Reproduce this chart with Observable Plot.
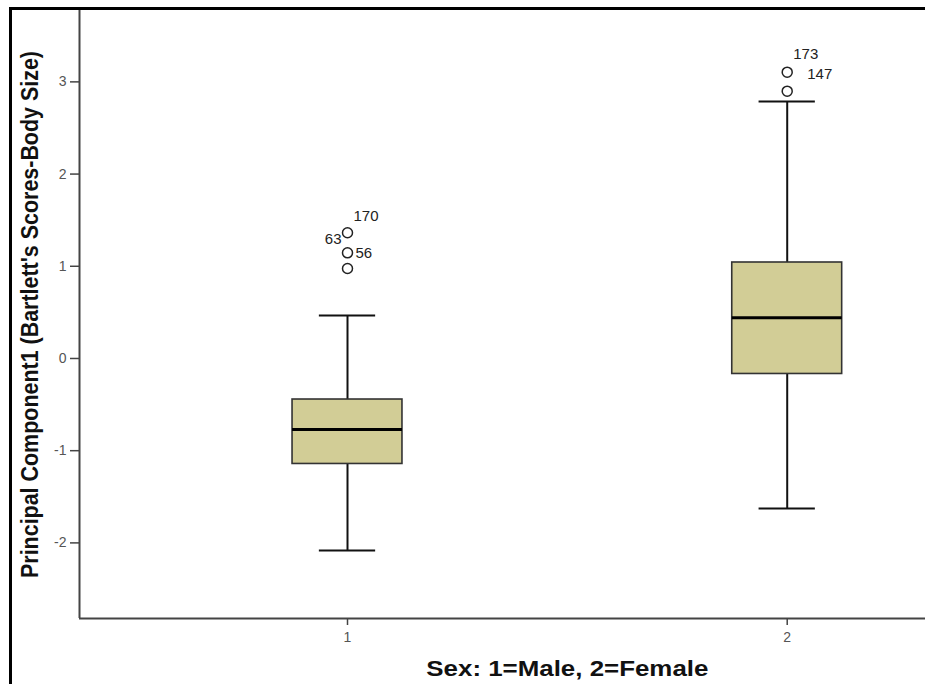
<!DOCTYPE html>
<html>
<head>
<meta charset="utf-8">
<script src="https://cdn.jsdelivr.net/npm/d3@7"></script>
<script src="https://cdn.jsdelivr.net/npm/@observablehq/plot@0.6"></script>
<style>
  body { margin: 0; background: #fff; overflow: hidden; }
  #chart { position: relative; width: 925px; height: 684px; overflow: hidden; background: #fff; }
  #chart svg { position: absolute; left: 0; top: 0; }
  .edge { position: absolute; background: #000; pointer-events: none; }
  #edge-left { left: 9px; top: 7px; width: 3px; height: 677px; }
  #edge-top { left: 9px; top: 7px; height: 3px; width: 916px; }
</style>
</head>
<body>
<div id="chart"><div class="edge" id="edge-left"></div><div class="edge" id="edge-top"></div></div>
<script>
// Box plot summary per sex group (1 = Male, 2 = Female)
const sexGroups   = [1, 2];
const whiskerLow  = [-2.082, -1.627];
const quartile1   = [-1.144, -0.168];
const medians     = [-0.770, 0.441];
const quartile3   = [-0.445, 1.041];
const whiskerHigh = [0.466, 2.787];

// Outlying cases
const outlierSex   = [1, 1, 1, 2, 2];
const outlierValue = [1.363, 1.146, 0.976, 3.105, 2.899];

// Case numbers printed beside outliers
const caseIds    = ["170", "63", "56", "173", "147"];
const caseSex    = [1, 1, 1, 2, 2];
const caseValue  = [1.363, 1.363, 1.146, 3.105, 2.899];

const yTicks = [-2, -1, 0, 1, 2, 3];
const xDomain = [0.3905, 2.3145];
const yDomain = [-2.82, 3.774];
const xTitle = "Sex: 1=Male, 2=Female";
const yTitle = "Principal Component1 (Bartlett's Scores-Body Size)";

const boxes = sexGroups.map((s, i) => ({
  sex: s, lo: whiskerLow[i], q1: quartile1[i], med: medians[i], q3: quartile3[i], hi: whiskerHigh[i]
}));
const outliers = outlierSex.map((s, i) => ({sex: s, value: outlierValue[i]}));
const cases = caseIds.map((id, i) => ({id, sex: caseSex[i], value: caseValue[i]}));

const boxHalf = 0.125;   // half box width in x units
const capHalf = 0.064;   // half whisker-cap width

// where each case number sits relative to its circle
const caseOffset = {
  "170": {dx: 6,  dy: -17, textAnchor: "start"},
  "63":  {dx: -6, dy: 6,   textAnchor: "end"},
  "56":  {dx: 8,  dy: 0,   textAnchor: "start"},
  "173": {dx: 6,  dy: -18, textAnchor: "start"},
  "147": {dx: 20, dy: -17, textAnchor: "start"}
};

const sans = "'Liberation Sans', Arial, sans-serif";
const narrow = "'Liberation Sans Narrow', 'Arial Narrow', 'Liberation Sans', Arial, sans-serif";

const chart = Plot.plot({
  width: 925,
  height: 684,
  marginLeft: 79,
  marginRight: 0,
  marginTop: 10,
  marginBottom: 66,
  style: {fontFamily: sans, background: "transparent"},
  x: {type: "linear", domain: xDomain},
  y: {domain: yDomain},
  marks: [
    // axis lines along the lower and left edges of the plotting area
    Plot.ruleX([xDomain[0]], {stroke: "#444", strokeWidth: 2}),
    Plot.ruleY([yDomain[0]], {stroke: "#444", strokeWidth: 2}),
    Plot.axisY({ticks: yTicks, tickSize: 9, tickPadding: 4, tickFormat: d => d,
                stroke: "#444", strokeWidth: 1.5, fill: "#555", fontSize: 14, label: null}),
    Plot.axisX({ticks: sexGroups, tickSize: 7, tickPadding: 7, tickFormat: d => d,
                stroke: "#444", strokeWidth: 1.5, fill: "#555", fontSize: 14, label: null}),
    // whiskers
    Plot.ruleX(boxes, {x: "sex", y1: "lo", y2: "q1", stroke: "#111", strokeWidth: 2}),
    Plot.ruleX(boxes, {x: "sex", y1: "q3", y2: "hi", stroke: "#111", strokeWidth: 2}),
    Plot.ruleY(boxes, {y: "lo", x1: d => d.sex - capHalf, x2: d => d.sex + capHalf, stroke: "#111", strokeWidth: 2}),
    Plot.ruleY(boxes, {y: "hi", x1: d => d.sex - capHalf, x2: d => d.sex + capHalf, stroke: "#111", strokeWidth: 2}),
    // boxes
    Plot.rect(boxes, {x1: d => d.sex - boxHalf, x2: d => d.sex + boxHalf, y1: "q1", y2: "q3",
                      fill: "#d2cd96", stroke: "#333", strokeWidth: 1.6}),
    // medians
    Plot.ruleY(boxes, {y: "med", x1: d => d.sex - boxHalf, x2: d => d.sex + boxHalf, stroke: "#000", strokeWidth: 3}),
    // outliers
    Plot.dot(outliers, {x: "sex", y: "value", r: 5, stroke: "#222", strokeWidth: 1.5, fill: "#fff"}),
    // case numbers
    ...cases.map(c => Plot.text([c], {x: "sex", y: "value", text: "id", fontSize: 15, fill: "#222",
                                      ...caseOffset[c.id]})),
    // axis titles
    Plot.text([xTitle], {x: () => d3.mean(sexGroups), frameAnchor: "bottom", dy: 57,
                         fontSize: 22, fontWeight: "bold", fill: "#111", fontFamily: sans}),
    Plot.text([yTitle], {frameAnchor: "left", dx: -49, rotate: -90, textAnchor: "middle",
                         fontSize: 23, fontWeight: "bold", fill: "#111", fontFamily: narrow})
  ]
});

// stretch the titles to their printed widths
d3.select(chart).selectAll("text")
  .filter(function () { return this.textContent === xTitle; })
  .attr("textLength", 282).attr("lengthAdjust", "spacingAndGlyphs");
d3.select(chart).selectAll("text")
  .filter(function () { return this.textContent === yTitle; })
  .attr("textLength", 527).attr("lengthAdjust", "spacingAndGlyphs");

document.getElementById("chart").prepend(chart);
</script>
</body>
</html>
